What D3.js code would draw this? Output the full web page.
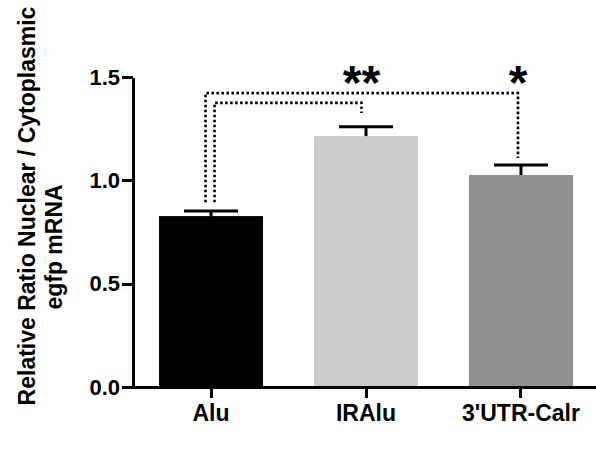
<!DOCTYPE html>
<html lang="en">
	<head>
		<meta charset="utf-8">
		<title>Nuclear / Cytoplasmic ratio</title>
		<style>
			body { margin: 0; background: #fff; }
			svg { display: block; font-family: "Liberation Sans", Arial, sans-serif; font-weight: bold; }
			.axis path, .axis line { stroke: #000; stroke-width: 3; shape-rendering: crispEdges; }
			.axis text { fill: #000; font-weight: bold; }
		</style>
	</head>
	<body>
		<div id="container"></div>
		<script src="https://cdnjs.cloudflare.com/ajax/libs/d3/7.8.5/d3.min.js"></script>
		<script>
			// Bar categories, means and error (SEM)
			var categories = ["Alu", "IRAlu", "3'UTR-Calr"];
			var means = [0.827, 1.214, 1.026];
			var errors = [0.025, 0.045, 0.048];
			var barColors = ["#000000", "#cccccc", "#919191"];
			var yTicks = [0.0, 0.5, 1.0, 1.5];

			// significance brackets: from / to category, bracket level, drop end, label
			var compFrom = ["Alu", "Alu"];
			var compTo = ["IRAlu", "3'UTR-Calr"];
			var compLevel = [1.375, 1.422];
			var compEnd = [1.326, 1.108];
			var compStart = [0.894, 0.894];
			var compLabel = ["**", "*"];

			var width = 596, height = 453;
			var margin = {top: 77, right: 0, bottom: 66, left: 133};

			var svg = d3.select("#container").append("svg")
						.attr("width", width)
						.attr("height", height);

			var xScale = d3.scaleBand()
						   .domain(categories)
						   .range([margin.left, margin.left + 466])
						   .paddingInner(0.329)
						   .paddingOuter(0.168);

			var yScale = d3.scaleLinear()
						   .domain([0, 1.5])
						   .range([height - margin.bottom, margin.top]);

			var data = categories.map(function(c, i) {
				return { name: c, mean: means[i], err: errors[i], color: barColors[i] };
			});

			// bars
			svg.selectAll("rect.bar")
			   .data(data)
			   .enter().append("rect")
			   .attr("class", "bar")
			   .attr("x", function(d) { return xScale(d.name); })
			   .attr("width", xScale.bandwidth())
			   .attr("y", function(d) { return yScale(d.mean); })
			   .attr("height", function(d) { return yScale(0) - yScale(d.mean); })
			   .attr("fill", function(d) { return d.color; });

			// error bars (upper only)
			var eb = svg.selectAll("g.err")
						.data(data)
						.enter().append("g")
						.attr("class", "err")
						.attr("stroke", "#000")
						.attr("stroke-width", 3);
			eb.append("line")
			  .attr("x1", function(d) { return xScale(d.name) + xScale.bandwidth() / 2; })
			  .attr("x2", function(d) { return xScale(d.name) + xScale.bandwidth() / 2; })
			  .attr("y1", function(d) { return yScale(d.mean); })
			  .attr("y2", function(d) { return yScale(d.mean + d.err); });
			eb.append("line")
			  .attr("x1", function(d) { return xScale(d.name) + xScale.bandwidth() / 2 - 27; })
			  .attr("x2", function(d) { return xScale(d.name) + xScale.bandwidth() / 2 + 27; })
			  .attr("y1", function(d) { return yScale(d.mean + d.err); })
			  .attr("y2", function(d) { return yScale(d.mean + d.err); });

			// axes
			var yAxis = d3.axisLeft(yScale)
						  .tickValues(yTicks)
						  .tickFormat(d3.format(".1f"))
						  .tickSize(11)
						  .tickSizeOuter(0);
			var gy = svg.append("g")
						.attr("class", "axis")
						.attr("transform", "translate(" + margin.left + ",0)")
						.call(yAxis);
			gy.selectAll("text")
			  .attr("x", -13)
			  .style("font-size", "22px");

			var xAxis = d3.axisBottom(xScale)
						  .tickSize(11)
						  .tickSizeOuter(0);
			var gx = svg.append("g")
						.attr("class", "axis")
						.attr("transform", "translate(0," + yScale(0) + ")")
						.call(xAxis);
			gx.select(".domain").attr("d", "M" + (margin.left - 1.5) + ",0H" + width);
			gx.selectAll("text")
			  .attr("y", 18)
			  .style("font-size", "23px");

			// significance brackets (dotted)
			var offsetsL = [3.5, -5.5], offsetsR = [-4.5, -3];
			compFrom.forEach(function(f, i) {
				var xa = xScale(f) + xScale.bandwidth() / 2 + offsetsL[i];
				var xb = xScale(compTo[i]) + xScale.bandwidth() / 2 + offsetsR[i];
				var path = d3.path();
				path.moveTo(xa, yScale(compStart[i]));
				path.lineTo(xa, yScale(compLevel[i]));
				path.lineTo(xb, yScale(compLevel[i]));
				path.lineTo(xb, yScale(compEnd[i]));
				svg.append("path")
				   .attr("d", path.toString())
				   .attr("fill", "none")
				   .attr("stroke", "#000")
				   .attr("stroke-width", 2.6)
				   .attr("stroke-dasharray", "2.6,2.4");
				svg.append("text")
				   .attr("x", xb)
				   .attr("y", 99)
				   .attr("text-anchor", "middle")
				   .style("font-size", "48px")
				   .text(compLabel[i]);
			});

			// y axis title (two lines)
			svg.append("text")
			   .attr("transform", "translate(35,206) rotate(-90)")
			   .attr("text-anchor", "middle")
			   .style("font-size", "23px")
			   .text("Relative Ratio Nuclear  / Cytoplasmic");
			svg.append("text")
			   .attr("transform", "translate(62,247) rotate(-90)")
			   .attr("text-anchor", "middle")
			   .style("font-size", "23px")
			   .text("egfp mRNA");
		</script>
	</body>
</html>
